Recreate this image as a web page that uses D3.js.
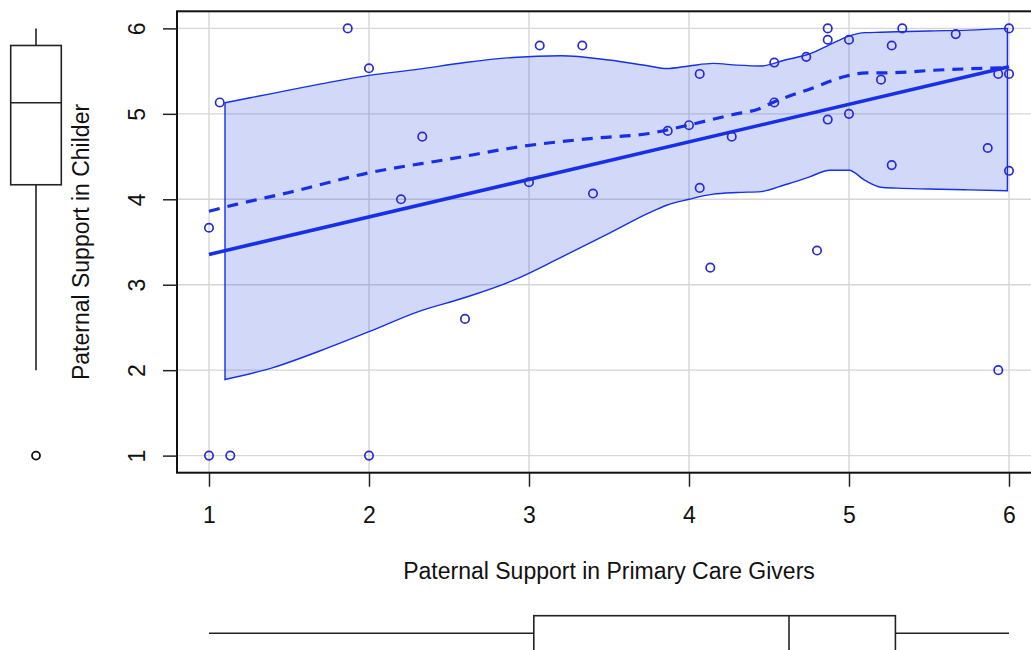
<!DOCTYPE html>
<html>
<head>
<meta charset="utf-8">
<script src="https://cdn.jsdelivr.net/npm/d3@7"></script>
<style>
  body { margin: 0; background: #fff; }
  svg { display: block; font-family: "Liberation Sans", Arial, Helvetica, sans-serif; }
</style>
</head>
<body>
<script>
// scatter points (primary care givers vs children)
const pointsX = [1.867, 2.0, 1.067, 3.067, 3.333, 2.333, 2.2, 3.0, 3.4, 1.0,
  4.867, 4.867, 5.0, 5.333, 5.667, 5.267, 6.0, 4.733, 4.533, 4.067,
  5.2, 5.933, 6.0, 4.533, 5.0, 4.867, 4.0, 3.867, 4.267, 5.867,
  5.267, 6.0, 4.067, 4.133, 4.8, 5.933, 2.6, 1.0, 1.133, 2.0];
const pointsY = [6.0, 5.533, 5.133, 5.8, 5.8, 4.733, 4.0, 4.2, 4.067, 3.667,
  6.0, 5.867, 5.867, 6.0, 5.933, 5.8, 6.0, 5.667, 5.6, 5.467,
  5.4, 5.467, 5.467, 5.133, 5.0, 4.933, 4.867, 4.8, 4.733, 4.6,
  4.4, 4.333, 4.133, 3.2, 3.4, 2.0, 2.6, 1.0, 1.0, 1.0];

// linear fit
const regX = [1, 6];
const regY = [3.355, 5.55];

// smoother (dashed)
const loessX = [1.0, 1.17, 1.5, 2.0, 2.5, 2.96, 3.44, 3.75, 4.0, 4.27, 4.44, 4.52, 4.77, 4.98, 5.11, 5.25, 5.53, 5.96];
const loessY = [3.86, 3.94, 4.08, 4.31, 4.47, 4.62, 4.72, 4.77, 4.87, 4.99, 5.06, 5.13, 5.30, 5.44, 5.48, 5.48, 5.51, 5.54];

// spread band
const bandX = [1.1, 1.4, 1.7, 2.0, 2.3, 2.6, 2.9, 3.2, 3.5, 3.75, 3.86, 4.0, 4.15, 4.3, 4.45, 4.6, 4.75, 4.88, 5.0, 5.1, 5.2, 5.3, 5.5, 5.75, 5.99];
const bandUpper = [5.13, 5.24, 5.35, 5.45, 5.52, 5.60, 5.66, 5.68, 5.63, 5.56, 5.53, 5.56, 5.59, 5.57, 5.56, 5.63, 5.70, 5.81, 5.91, 5.95, 5.955, 5.96, 5.97, 5.98, 6.0];
const bandLower = [1.89, 2.03, 2.23, 2.45, 2.68, 2.85, 3.05, 3.32, 3.60, 3.84, 3.93, 4.0, 4.06, 4.08, 4.09, 4.17, 4.26, 4.34, 4.34, 4.22, 4.14, 4.13, 4.12, 4.11, 4.10];

// marginal boxplots: [lower whisker, q1, median, q3, upper whisker]
const yBoxStats = [2.0, 4.17, 5.13, 5.8, 6.0];
const yOutliers = [1.0];
const xBoxStats = [1.0, 3.03, 4.625, 5.29, 6.0];

const ticks = [1, 2, 3, 4, 5, 6];
const xTitle = "Paternal Support in Primary Care Givers";
const yTitle = "Paternal Support in Childer";

const W = 1031, H = 650;
const blue = "#1530e8";
const font = 23;

const svg = d3.select("body").append("svg")
    .attr("width", W)
    .attr("height", H);

const x = d3.scaleLinear().domain([0.8, 6.2]).range([177, 1041]);
const y = d3.scaleLinear().domain([0.8, 6.2]).range([472.7, 11.3]);

// grid
svg.append("g")
    .selectAll("line")
    .data(ticks)
    .enter().append("line")
    .attr("x1", d => x(d)).attr("x2", d => x(d))
    .attr("y1", y.range()[1]).attr("y2", y.range()[0])
    .attr("stroke", "#d6d6d6").attr("stroke-width", 1.4);
svg.append("g")
    .selectAll("line")
    .data(ticks)
    .enter().append("line")
    .attr("y1", d => y(d)).attr("y2", d => y(d))
    .attr("x1", x.range()[0]).attr("x2", x.range()[1])
    .attr("stroke", "#d6d6d6").attr("stroke-width", 1.4);

// band
const band = bandX.map((v, i) => ({x: v, lo: bandLower[i], hi: bandUpper[i]}));
svg.append("path")
    .datum(band)
    .attr("d", d3.area()
        .x(d => x(d.x)).y0(d => y(d.lo)).y1(d => y(d.hi))
        .curve(d3.curveMonotoneX))
    .attr("fill", "rgba(30,60,220,0.2)")
    .attr("stroke", blue)
    .attr("stroke-width", 1.4);

// loess line
svg.append("path")
    .datum(d3.zip(loessX, loessY))
    .attr("d", d3.line().x(d => x(d[0])).y(d => y(d[1])).curve(d3.curveMonotoneX))
    .attr("fill", "none")
    .attr("stroke", blue)
    .attr("stroke-width", 3.2)
    .attr("stroke-dasharray", "11,8");

// regression line
svg.append("path")
    .datum(d3.zip(regX, regY))
    .attr("d", d3.line().x(d => x(d[0])).y(d => y(d[1])))
    .attr("fill", "none")
    .attr("stroke", blue)
    .attr("stroke-width", 3.6);

// points
svg.append("g")
    .selectAll("circle")
    .data(d3.zip(pointsX, pointsY))
    .enter().append("circle")
    .attr("cx", d => x(d[0]))
    .attr("cy", d => y(d[1]))
    .attr("r", 4.2)
    .attr("fill", "none")
    .attr("stroke", "#2b2bd6")
    .attr("stroke-width", 1.7);

// frame
svg.append("rect")
    .attr("x", x.range()[0]).attr("y", y.range()[1])
    .attr("width", x.range()[1] - x.range()[0])
    .attr("height", y.range()[0] - y.range()[1])
    .attr("fill", "none")
    .attr("stroke", "#111")
    .attr("stroke-width", 2);

// axes
const xAxis = svg.append("g")
    .attr("transform", "translate(0," + y.range()[0] + ")")
    .call(d3.axisBottom(x).tickValues(ticks).tickFormat(d3.format("d"))
        .tickSize(14).tickSizeOuter(0).tickPadding(20));
xAxis.select(".domain").remove();
xAxis.selectAll("line").attr("stroke", "#222").attr("stroke-width", 1.5);
xAxis.selectAll("text").attr("font-size", font).attr("fill", "#111")
    .style("font-family", "'Liberation Sans', Arial, sans-serif");

const yAxis = svg.append("g")
    .attr("transform", "translate(" + x.range()[0] + ",0)")
    .call(d3.axisLeft(y).tickValues(ticks).tickFormat(d3.format("d"))
        .tickSize(14).tickSizeOuter(0));
yAxis.select(".domain").remove();
yAxis.selectAll("line").attr("stroke", "#222").attr("stroke-width", 1.5);
yAxis.selectAll("text")
    .attr("x", null).attr("dy", null)
    .attr("text-anchor", "middle")
    .attr("transform", "translate(-32,0) rotate(-90)")
    .attr("font-size", font).attr("fill", "#111")
    .style("font-family", "'Liberation Sans', Arial, sans-serif");

// titles
svg.append("text")
    .attr("x", (x(1) + x(6)) / 2)
    .attr("y", 579)
    .attr("text-anchor", "middle")
    .attr("font-size", font)
    .attr("fill", "#111")
    .text(xTitle);

svg.append("text")
    .attr("transform", "translate(89," + (y.range()[0] + y.range()[1]) / 2 + ") rotate(-90)")
    .attr("text-anchor", "middle")
    .attr("font-size", font)
    .attr("fill", "#111")
    .text(yTitle);

// left boxplot (children)
const lb = svg.append("g").attr("stroke", "#222").attr("stroke-width", 1.6).attr("fill", "none");
const cx = 36, bw = 25.3;
lb.append("line").attr("x1", cx).attr("x2", cx).attr("y1", y(yBoxStats[4])).attr("y2", y(yBoxStats[3]));
lb.append("line").attr("x1", cx).attr("x2", cx).attr("y1", y(yBoxStats[1])).attr("y2", y(yBoxStats[0]));
lb.append("rect").attr("x", cx - bw).attr("width", 2 * bw)
    .attr("y", y(yBoxStats[3])).attr("height", y(yBoxStats[1]) - y(yBoxStats[3]));
lb.append("line").attr("x1", cx - bw).attr("x2", cx + bw).attr("y1", y(yBoxStats[2])).attr("y2", y(yBoxStats[2]));
lb.selectAll("circle").data(yOutliers).enter().append("circle")
    .attr("cx", cx).attr("cy", d => y(d)).attr("r", 4).attr("stroke", "#111").attr("stroke-width", 1.8);

// bottom boxplot (primary care givers)
const bb = svg.append("g").attr("stroke", "#222").attr("stroke-width", 1.6).attr("fill", "none");
const cy = 633.3, bh = 17.6;
bb.append("line").attr("y1", cy).attr("y2", cy).attr("x1", x(xBoxStats[0])).attr("x2", x(xBoxStats[1]));
bb.append("line").attr("y1", cy).attr("y2", cy).attr("x1", x(xBoxStats[3])).attr("x2", x(xBoxStats[4]));
bb.append("rect").attr("y", cy - bh).attr("height", 2 * bh)
    .attr("x", x(xBoxStats[1])).attr("width", x(xBoxStats[3]) - x(xBoxStats[1]));
bb.append("line").attr("y1", cy - bh).attr("y2", cy + bh).attr("x1", x(xBoxStats[2])).attr("x2", x(xBoxStats[2]));
</script>
</body>
</html>
